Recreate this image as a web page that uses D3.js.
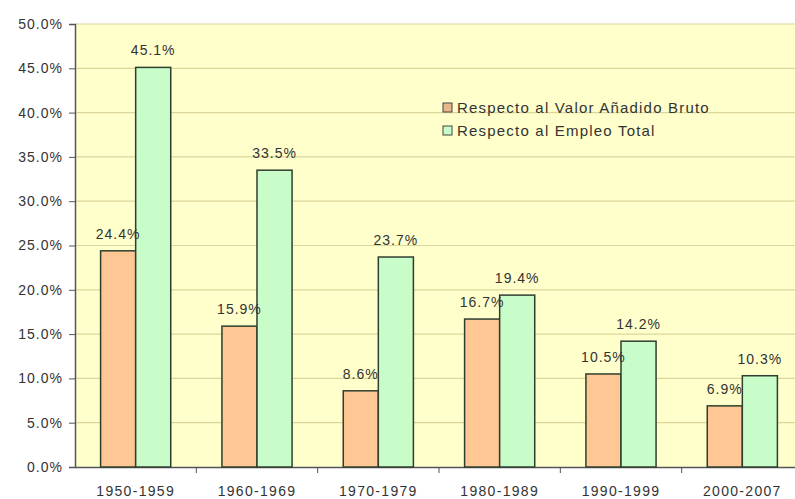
<!DOCTYPE html>
<html>
<head>
<meta charset="utf-8">
<script src="https://cdn.jsdelivr.net/npm/d3@7"></script>
<style>
  body { margin: 0; background: #fff; }
  text { font-family: "Liberation Sans", Arial, sans-serif; fill: #333; }
</style>
</head>
<body>
<svg id="chart" width="795" height="499"></svg>
<script>
// data
var periods = ["1950-1959", "1960-1969", "1970-1979", "1980-1989", "1990-1999", "2000-2007"];
var valorAnadido = [24.4, 15.9, 8.6, 16.7, 10.5, 6.9];
var empleoTotal = [45.1, 33.5, 23.7, 19.4, 14.2, 10.3];
var seriesNames = ["Respecto al Valor Añadido Bruto", "Respecto al Empleo Total"];
var yTicks = [0, 5, 10, 15, 20, 25, 30, 35, 40, 45, 50];

var svg = d3.select("#chart");
var plotLeft = 75, plotTop = 24, plotBottom = 467, plotRight = 803;

var x = d3.scaleBand().domain(periods).range([plotLeft, plotRight]);
var y = d3.scaleLinear().domain([0, 50]).range([plotBottom, plotTop]);
var colors = ["#ffc794", "#c8fcc8"];

// plot background
svg.append("rect")
   .attr("x", plotLeft).attr("y", plotTop)
   .attr("width", plotRight - plotLeft).attr("height", plotBottom - plotTop)
   .attr("fill", "#ffffcc");

// gridlines
svg.append("g").selectAll("line")
   .data(yTicks.slice(1))
   .enter().append("line")
   .attr("x1", plotLeft).attr("x2", plotRight)
   .attr("y1", function(d) { return y(d); })
   .attr("y2", function(d) { return y(d); })
   .attr("stroke", "#dcd69a")
   .attr("stroke-width", 1.2);

// y axis
var yAxis = svg.append("g")
   .attr("transform", "translate(" + plotLeft + ",0)")
   .call(d3.axisLeft(y).tickValues(yTicks).tickSize(6).tickPadding(6)
           .tickFormat(function(d) { return d.toFixed(1) + "%"; }));
yAxis.select(".domain").attr("stroke", "#555").attr("stroke-width", 1.5);
yAxis.selectAll(".tick line").attr("stroke", "#555");
yAxis.selectAll("text").style("font-size", "14px").style("letter-spacing", "1px").attr("fill", "#333");

// x axis
var xAxis = svg.append("g")
   .attr("transform", "translate(0," + plotBottom + ")")
   .call(d3.axisBottom(x).tickSize(0).tickPadding(19));
xAxis.select(".domain").attr("stroke", "#555").attr("stroke-width", 1.5);
xAxis.selectAll("text").style("font-size", "14px").style("letter-spacing", "1.3px").attr("fill", "#333");
// category separators
svg.append("g").selectAll("line")
   .data(periods.slice(1))
   .enter().append("line")
   .attr("x1", function(d) { return x(d); })
   .attr("x2", function(d) { return x(d); })
   .attr("y1", plotBottom).attr("y2", plotBottom + 6)
   .attr("stroke", "#555");

// bars
var sub = d3.scaleBand().domain([0, 1])
   .range([0, x.bandwidth()]).paddingInner(0).paddingOuter(0.73);

var rows = periods.map(function(p, i) {
    return { period: p, values: [valorAnadido[i], empleoTotal[i]] };
});

var grp = svg.append("g").selectAll("g")
   .data(rows)
   .enter().append("g")
   .attr("transform", function(d) { return "translate(" + x(d.period) + ",0)"; });

grp.selectAll("rect")
   .data(function(d) { return d.values; })
   .enter().append("rect")
   .attr("x", function(d, i) { return sub(i); })
   .attr("y", function(d) { return y(d); })
   .attr("width", sub.bandwidth())
   .attr("height", function(d) { return plotBottom - y(d); })
   .attr("fill", function(d, i) { return colors[i]; })
   .attr("stroke", "#2f3f2f")
   .attr("stroke-width", 1.5);

grp.selectAll("text.lbl")
   .data(function(d) { return d.values; })
   .enter().append("text")
   .attr("class", "lbl")
   .attr("x", function(d, i) { return sub(i) + sub.bandwidth() / 2; })
   .attr("y", function(d) { return y(d) - 12; })
   .attr("text-anchor", "middle")
   .style("font-size", "14px")
   .style("letter-spacing", "1px")
   .text(function(d) { return d.toFixed(1) + "%"; });

// legend
var legend = svg.append("g").attr("transform", "translate(443,108)");
var item = legend.selectAll("g")
   .data(seriesNames)
   .enter().append("g")
   .attr("transform", function(d, i) { return "translate(0," + (i * 23) + ")"; });
item.append("rect")
   .attr("x", 0).attr("y", -5)
   .attr("width", 9).attr("height", 9)
   .attr("fill", function(d, i) { return i === 0 ? "#e8b88c" : "#c8fcc8"; })
   .attr("stroke", "#444");
item.append("text")
   .attr("x", 14).attr("y", 5)
   .style("font-size", "15px")
   .style("letter-spacing", "1.2px")
   .text(function(d) { return d; });
</script>
</body>
</html>
